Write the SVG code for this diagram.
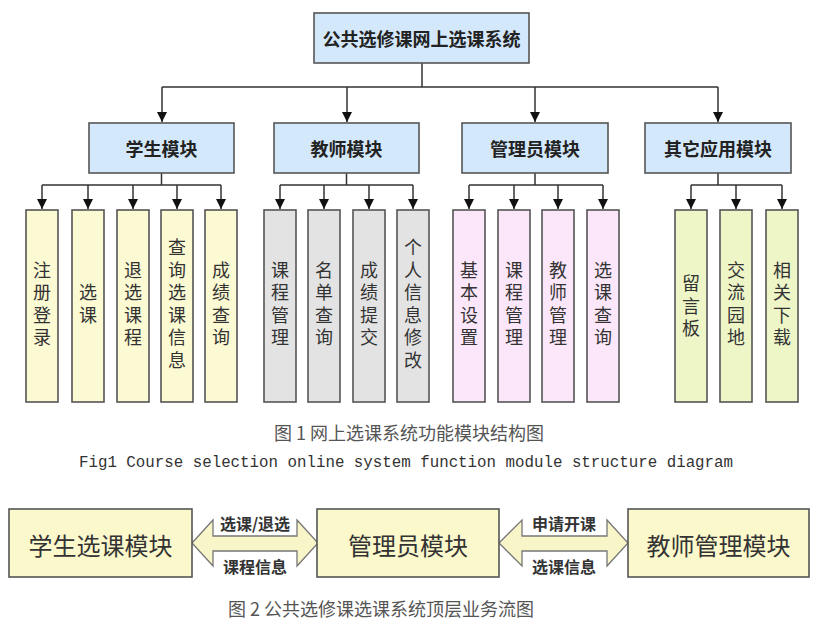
<svg xmlns="http://www.w3.org/2000/svg" width="819" height="629" viewBox="0 0 819 629">
<defs>
<marker id="ah" markerUnits="userSpaceOnUse" markerWidth="11" markerHeight="11" refX="10" refY="5.5" orient="auto">
<path d="M0,0.5 L10,5.5 L0,10.5 Z" fill="#111"/>
</marker>
<style>
text{font-family:"Noto Sans CJK SC","Liberation Sans",sans-serif;fill:#222;}
.box{stroke:#555;stroke-width:1.6;}
.mod{fill:#d4e8fb;}
.stu{fill:#fcfad2;}
.tea{fill:#e3e3e3;}
.adm{fill:#fce6f9;}
.oth{fill:#eef6c8;}
.bot{fill:#fbf8cc;}
.hd{font-size:18px;font-weight:bold;text-anchor:middle;dominant-baseline:central;}
.lf{font-size:18px;text-anchor:middle;dominant-baseline:central;fill:#333;writing-mode:vertical-rl;letter-spacing:4.5px;}
.bt{font-size:24px;text-anchor:middle;dominant-baseline:central;fill:#333;}
.al{font-size:16px;font-weight:bold;text-anchor:middle;dominant-baseline:central;fill:#333;}
.cap{font-size:18px;text-anchor:middle;dominant-baseline:central;fill:#555;}
.en{font-family:"Liberation Mono",monospace;font-size:15.8px;text-anchor:middle;dominant-baseline:central;fill:#333;}
.ln{fill:none;stroke:#333;stroke-width:1.5;}
.ar{fill:#f8f5c8;stroke:#777;stroke-width:1.3;}
</style>
</defs>
<rect width="819" height="629" fill="#fff"/>

<g id="connectors">
<path class="ln" d="M422,63 V87 M162,87 H718"/>
<path class="ln" d="M162,87 V122" marker-end="url(#ah)"/>
<path class="ln" d="M347,87 V122" marker-end="url(#ah)"/>
<path class="ln" d="M535,87 V122" marker-end="url(#ah)"/>
<path class="ln" d="M718,87 V122" marker-end="url(#ah)"/>
<path class="ln" d="M161.5,173 V185 M42,185 H221"/>
<path class="ln" d="M42,185 V209" marker-end="url(#ah)"/>
<path class="ln" d="M88,185 V209" marker-end="url(#ah)"/>
<path class="ln" d="M133,185 V209" marker-end="url(#ah)"/>
<path class="ln" d="M177,185 V209" marker-end="url(#ah)"/>
<path class="ln" d="M221,185 V209" marker-end="url(#ah)"/>
<path class="ln" d="M346.5,173 V185 M280,185 H413"/>
<path class="ln" d="M280,185 V209" marker-end="url(#ah)"/>
<path class="ln" d="M324,185 V209" marker-end="url(#ah)"/>
<path class="ln" d="M369,185 V209" marker-end="url(#ah)"/>
<path class="ln" d="M413,185 V209" marker-end="url(#ah)"/>
<path class="ln" d="M535,173 V185 M469,185 H603"/>
<path class="ln" d="M469,185 V209" marker-end="url(#ah)"/>
<path class="ln" d="M514,185 V209" marker-end="url(#ah)"/>
<path class="ln" d="M558,185 V209" marker-end="url(#ah)"/>
<path class="ln" d="M603,185 V209" marker-end="url(#ah)"/>
<path class="ln" d="M718,173 V185 M691,185 H782"/>
<path class="ln" d="M691,185 V209" marker-end="url(#ah)"/>
<path class="ln" d="M736,185 V209" marker-end="url(#ah)"/>
<path class="ln" d="M782,185 V209" marker-end="url(#ah)"/>
</g>

<g id="root"><rect class="box mod" x="314" y="13" width="215" height="50"/><text class="hd" x="421.5" y="38">公共选修课网上选课系统</text></g>

<g id="m-student"><rect class="box mod" x="89" y="123" width="145" height="50"/><text class="hd" x="161.5" y="148">学生模块</text></g>
<g id="m-teacher"><rect class="box mod" x="274" y="123" width="145" height="50"/><text class="hd" x="346.5" y="148">教师模块</text></g>
<g id="m-admin"><rect class="box mod" x="462" y="123" width="146" height="50"/><text class="hd" x="535" y="148">管理员模块</text></g>
<g id="m-other"><rect class="box mod" x="645" y="123" width="146" height="50"/><text class="hd" x="718" y="148">其它应用模块</text></g>

<g id="s1"><rect class="box stu" x="26" y="210" width="32" height="192"/><text class="lf" x="42" y="306">注册登录</text></g>
<g id="s2"><rect class="box stu" x="72" y="210" width="32" height="192"/><text class="lf" x="88" y="306">选课</text></g>
<g id="s3"><rect class="box stu" x="117" y="210" width="32" height="192"/><text class="lf" x="133" y="306">退选课程</text></g>
<g id="s4"><rect class="box stu" x="161" y="210" width="32" height="192"/><text class="lf" x="177" y="306">查询选课信息</text></g>
<g id="s5"><rect class="box stu" x="205" y="210" width="32" height="192"/><text class="lf" x="221" y="306">成绩查询</text></g>

<g id="t1"><rect class="box tea" x="264" y="210" width="32" height="192"/><text class="lf" x="280" y="306">课程管理</text></g>
<g id="t2"><rect class="box tea" x="308" y="210" width="32" height="192"/><text class="lf" x="324" y="306">名单查询</text></g>
<g id="t3"><rect class="box tea" x="353" y="210" width="32" height="192"/><text class="lf" x="369" y="306">成绩提交</text></g>
<g id="t4"><rect class="box tea" x="397" y="210" width="32" height="192"/><text class="lf" x="413" y="306">个人信息修改</text></g>

<g id="a1"><rect class="box adm" x="453" y="210" width="32" height="192"/><text class="lf" x="469" y="306">基本设置</text></g>
<g id="a2"><rect class="box adm" x="498" y="210" width="32" height="192"/><text class="lf" x="514" y="306">课程管理</text></g>
<g id="a3"><rect class="box adm" x="542" y="210" width="32" height="192"/><text class="lf" x="558" y="306">教师管理</text></g>
<g id="a4"><rect class="box adm" x="587" y="210" width="32" height="192"/><text class="lf" x="603" y="306">选课查询</text></g>

<g id="o1"><rect class="box oth" x="675" y="210" width="32" height="192"/><text class="lf" x="691" y="308">留言板</text></g>
<g id="o2"><rect class="box oth" x="720" y="210" width="32" height="192"/><text class="lf" x="736" y="306">交流园地</text></g>
<g id="o3"><rect class="box oth" x="766" y="210" width="32" height="192"/><text class="lf" x="782" y="306">相关下载</text></g>

<text class="cap" x="409" y="432">图 1 网上选课系统功能模块结构图</text>
<text class="en" x="406" y="463">Fig1 Course selection online system function module structure diagram</text>

<g id="flow-connectors">
<path class="ar" d="M192,543 L213,520 V536 H297 V520 L318,543 L297,566 V551 H213 V566 Z"/>
<path class="ar" d="M499,543 L522,520 V536 H607 V520 L628,543 L607,566 V551 H522 V566 Z"/>
<text class="al" x="255" y="523">选课/退选</text>
<text class="al" x="255" y="566">课程信息</text>
<text class="al" x="564" y="523">申请开课</text>
<text class="al" x="564" y="566">选课信息</text>
</g>

<g id="b-student"><rect class="box bot" x="9" y="509" width="183" height="68"/><text class="bt" x="100.5" y="544">学生选课模块</text></g>
<g id="b-admin"><rect class="box bot" x="317" y="509" width="182" height="68"/><text class="bt" x="408" y="544">管理员模块</text></g>
<g id="b-teacher"><rect class="box bot" x="628" y="509" width="181" height="68"/><text class="bt" x="718.5" y="544">教师管理模块</text></g>

<text class="cap" x="381" y="608">图 2 公共选修课选课系统顶层业务流图</text>
</svg>
